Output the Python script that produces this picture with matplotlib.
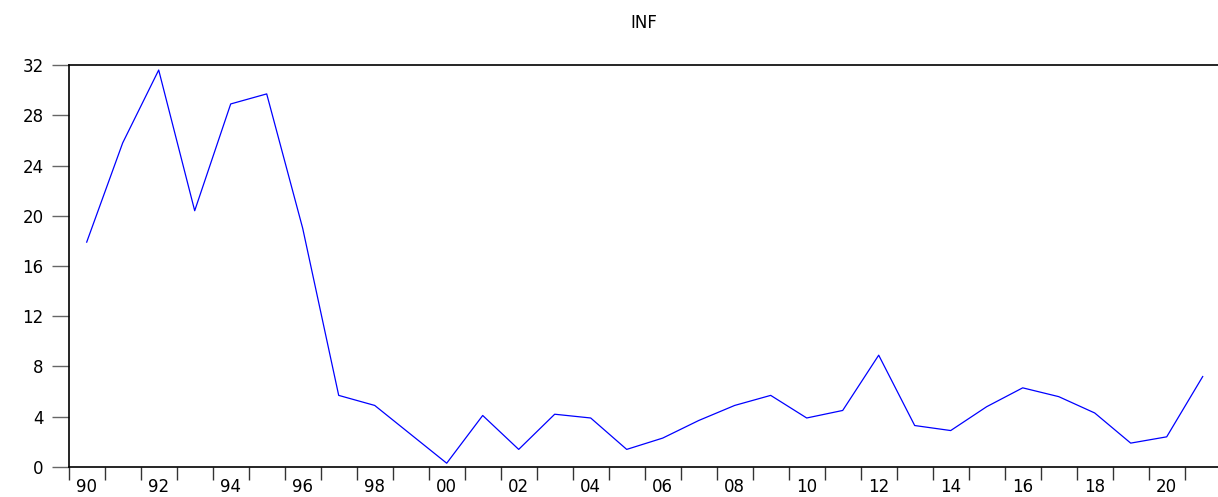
import numpy as np
import matplotlib.pyplot as plt
from matplotlib.ticker import FixedLocator, NullFormatter

# annual inflation, 1990-2021
years = list(range(1990, 2022))
inf = [17.9, 25.8, 31.6, 20.4, 28.9, 29.7, 19.0, 5.7, 4.9, 2.6,
       0.3, 4.1, 1.4, 4.2, 3.9, 1.4, 2.3, 3.7, 4.9, 5.7,
       3.9, 4.5, 8.9, 3.3, 2.9, 4.8, 6.3, 5.6, 4.3, 1.9,
       2.4, 7.2]
y_ticks = [0, 4, 8, 12, 16, 20, 24, 28, 32]
x_labels = ["90", "92", "94", "96", "98", "00", "02", "04", "06", "08",
            "10", "12", "14", "16", "18", "20"]

plt.rcParams['font.family'] = ['DejaVu Sans']

fig = plt.figure(figsize=(12.18, 4.97), dpi=100)
ax = fig.add_axes([0.0564, 0.0604, 0.9436, 0.8088])

# points sit in the middle of each year
x = np.array(years) + 0.5
ax.plot(x, inf, color='#0000ff', lw=0.9)

ax.set_xlim(1990, 1990 + (1218 - 68.7) / 36)
ax.set_ylim(0, 32)

ax.set_yticks(y_ticks)
ax.tick_params(axis='y', direction='out', length=12, width=1,
               color='#666666', pad=6, labelsize=12)

# tick marks at every year boundary, labels centred on even years
ax.xaxis.set_major_locator(FixedLocator(years))
ax.xaxis.set_major_formatter(NullFormatter())
ax.xaxis.set_minor_locator(FixedLocator([y + 0.5 for y in years[::2]]))
ax.set_xticklabels(x_labels, minor=True)
ax.tick_params(axis='x', which='major', direction='out', length=9,
               width=1, color='#333333')
ax.tick_params(axis='x', which='minor', length=0, pad=8, labelsize=12)

for side in ['left', 'bottom', 'top']:
    ax.spines[side].set_linewidth(1.2)
ax.spines['right'].set_visible(False)

ax.set_title("INF", fontsize=12, pad=27)

fig.savefig("out.png", dpi=100)
